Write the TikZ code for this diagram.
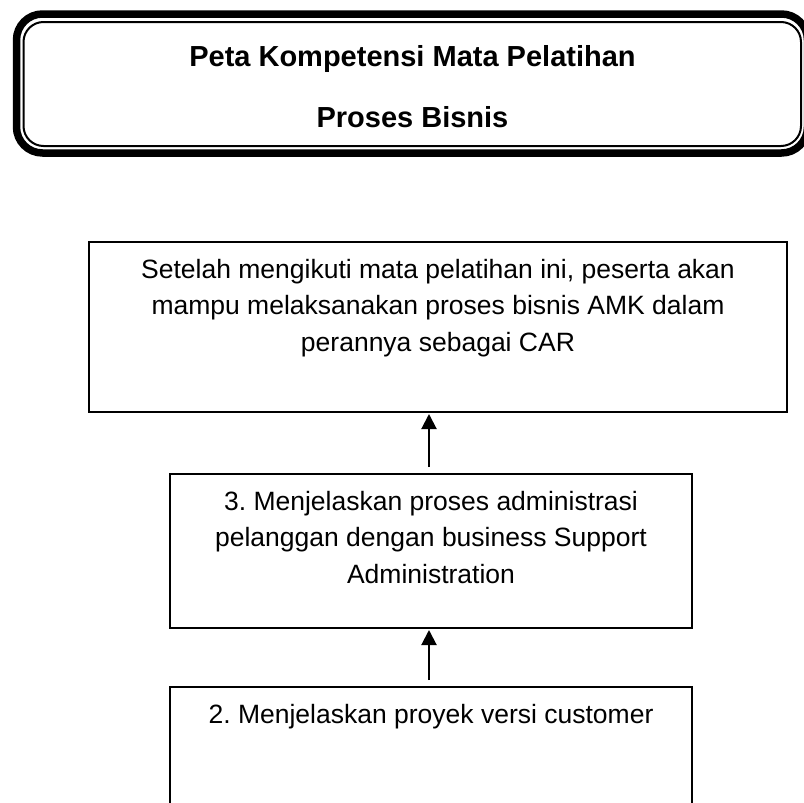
\documentclass[tikz,border=0pt]{standalone}
\usepackage{fontspec}
\setmainfont{Liberation Sans}
\usetikzlibrary{arrows.meta}
\frenchspacing
\begin{document}
\begin{tikzpicture}[x=1pt,y=1pt,
  boxstyle/.style={draw, line width=1.5pt, rectangle, inner sep=0pt, outer sep=0pt, anchor=north west},
  bodytext/.style={font=\fontsize{26.5}{36.5}\selectfont, align=center, inner sep=0pt, outer sep=0pt, anchor=north},
  titletext/.style={font=\fontsize{29}{35}\selectfont\bfseries, inner sep=0pt, anchor=base},
  arrowstyle/.style={line width=2pt, -{Triangle[width=15pt,length=15pt]}}]
\path[use as bounding box] (0,0) rectangle (804,-803);
\clip (0,0) rectangle (804,-803);
% title frame
\node[draw, line width=7.5pt, rounded corners=26pt, minimum width=791pt, minimum height=139pt, inner sep=0pt, outer sep=0pt] (title) at (412,-83.5) {};
\draw[line width=2pt, rounded corners=20pt] ([xshift=7pt,yshift=-8pt]title.north west) rectangle ([xshift=-6.5pt,yshift=7pt]title.south east);
\node[titletext] (tl1) at (412.5,-66) {Peta Kompetensi Mata Pelatihan};
\node[titletext] (tl2) at (412.5,-127) {Proses Bisnis};
% boxes
\node[boxstyle, minimum width=698pt, minimum height=170pt] (b1) at (89,-242) {};
\node[boxstyle, minimum width=522pt, minimum height=154pt] (b2) at (170,-474) {};
\node[boxstyle, minimum width=522pt, minimum height=154pt] (b3) at (170,-687) {};
\node[bodytext] (t1) at ([yshift=-10.45pt]b1.north) {\strut Setelah mengikuti mata pelatihan ini, peserta akan\\mampu melaksanakan proses bisnis AMK dalam\\perannya sebagai CAR};
\node[bodytext] (t2) at ([yshift=-10.45pt]b2.north) {\strut 3. Menjelaskan proses administrasi\\pelanggan dengan business Support\\Administration};
\node[bodytext] (t3) at ([yshift=-10.45pt]b3.north) {\strut 2. Menjelaskan proyek versi customer};
% arrows
\coordinate (a1s) at ([xshift=-2pt,yshift=7pt]b2.north);
\coordinate (a1e) at (a1s |- b1.south);
\draw[arrowstyle, shorten >=2pt] (a1s) -- (a1e);
\coordinate (a2s) at ([xshift=-2pt,yshift=7pt]b3.north);
\coordinate (a2e) at (a2s |- b2.south);
\draw[arrowstyle, shorten >=2pt] (a2s) -- (a2e);
\end{tikzpicture}
\end{document}
